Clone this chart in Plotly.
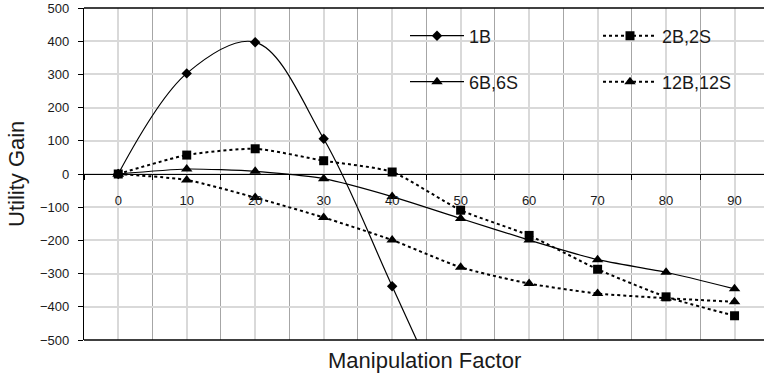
import plotly.graph_objects as go

# Manipulation factor (x) and utility gain per market configuration
factor = [0, 10, 20, 30, 40, 50, 60, 70, 80, 90]
gain_1b = [0, 303, 397, 106, -338, -790]
gain_2b2s = [0, 57, 76, 40, 6, -109, -185, -287, -370, -427]
gain_6b6s = [0, 15, 8, -14, -68, -134, -199, -258, -296, -346]
gain_12b12s = [0, -18, -71, -131, -199, -281, -330, -360, -374, -385]

x_ticks = [0, 10, 20, 30, 40, 50, 60, 70, 80, 90]
y_ticks = [-500, -400, -300, -200, -100, 0, 100, 200, 300, 400, 500]

FONT = "Arial, Liberation Sans, sans-serif"
INK = "#1a1a1a"

W, H = 764, 376
ML, MR, MT, MB = 84, 0, 8, 36
plot_w = W - ML - MR
plot_h = H - MT - MB


def px_x(p):
    return (p - ML) / plot_w


def px_y(p):
    return 1 - (p - MT) / plot_h


fig = go.Figure()

fig.add_trace(go.Scatter(
    x=factor[:len(gain_1b)], y=gain_1b, name="1B", mode="lines+markers",
    line=dict(color="black", width=1.2, shape="spline", smoothing=1),
    marker=dict(symbol="diamond", size=8, color="black"),
    legend="legend",
))
fig.add_trace(go.Scatter(
    x=factor, y=gain_2b2s, name="2B,2S", mode="lines+markers",
    line=dict(color="black", width=2, dash="3px,3px", shape="spline", smoothing=0.6),
    marker=dict(symbol="square", size=9, color="black"),
    legend="legend2",
))
fig.add_trace(go.Scatter(
    x=factor, y=gain_6b6s, name="6B,6S", mode="lines+markers",
    line=dict(color="black", width=1.2, shape="spline", smoothing=0.6),
    marker=dict(symbol="triangle-up", size=10, color="black"),
    legend="legend3",
))
fig.add_trace(go.Scatter(
    x=factor, y=gain_12b12s, name="12B,12S", mode="lines+markers",
    line=dict(color="black", width=2, dash="3px,3px", shape="spline", smoothing=0.6),
    marker=dict(symbol="triangle-up", size=10, color="black"),
    legend="legend4",
))


def legend_at(line_left, row_y):
    return dict(
        orientation="v", xanchor="left", yanchor="middle",
        x=px_x(line_left - 6), y=px_y(row_y),
        itemwidth=54, bgcolor="rgba(0,0,0,0)",
        font=dict(family=FONT, size=18, color=INK),
    )


fig.update_layout(
    width=W, height=H,
    margin=dict(l=ML, r=MR, t=MT, b=MB),
    paper_bgcolor="white", plot_bgcolor="white",
    showlegend=True,
    legend=legend_at(411, 36),
    legend2=legend_at(604, 36),
    legend3=legend_at(411, 82),
    legend4=legend_at(604, 82),
    xaxis=dict(
        range=[-5, 94.3], tickmode="array", tickvals=x_ticks,
        ticktext=[str(v) for v in x_ticks],
        anchor="free", position=0.5,
        showline=True, linecolor="black", linewidth=1.2,
        showgrid=True, gridcolor="#d9d9d9", gridwidth=1.5,
        zeroline=False,
        ticks="outside", ticklen=14, tickcolor="rgba(0,0,0,0)",
        tickfont=dict(family=FONT, size=13, color=INK),
        minor=dict(tick0=5, dtick=10, showgrid=True, gridcolor="#a6a6a6",
                   gridwidth=1.2, ticks="outside", ticklen=5,
                   tickcolor="black"),
    ),
    yaxis=dict(
        range=[-500, 500], tickmode="array", tickvals=y_ticks,
        showline=True, linecolor="black", linewidth=1.2,
        showgrid=True, gridcolor="#d9d9d9", gridwidth=1.5,
        zeroline=False,
        ticks="outside", ticklen=5, tickcolor="black",
        ticklabelstandoff=6,
        tickfont=dict(family=FONT, size=13, color=INK),
    ),
    shapes=[
        # white panel behind the legend, above the gridlines
        dict(type="rect", xref="paper", yref="paper",
             x0=px_x(380), x1=1, y0=px_y(103), y1=px_y(11),
             fillcolor="white", line=dict(width=0), layer="between"),
        # frame lines at the bottom and top of the plot area
        dict(type="line", xref="paper", yref="paper", x0=0, x1=1, y0=0, y1=0,
             line=dict(color="black", width=1.5)),
        dict(type="line", xref="paper", yref="paper", x0=0, x1=1, y0=1, y1=1,
             line=dict(color="black", width=1.5)),
    ],
    annotations=[
        dict(text="Utility Gain", xref="paper", yref="paper",
             x=px_x(16), y=0.5, xanchor="center", yanchor="middle",
             textangle=-90, showarrow=False,
             font=dict(family=FONT, size=22, color=INK)),
        dict(text="Manipulation Factor", xref="paper", yref="paper",
             x=0.5, y=px_y(360), xanchor="center", yanchor="middle",
             showarrow=False,
             font=dict(family=FONT, size=22, color=INK)),
    ],
)

fig.write_html("out.html")
